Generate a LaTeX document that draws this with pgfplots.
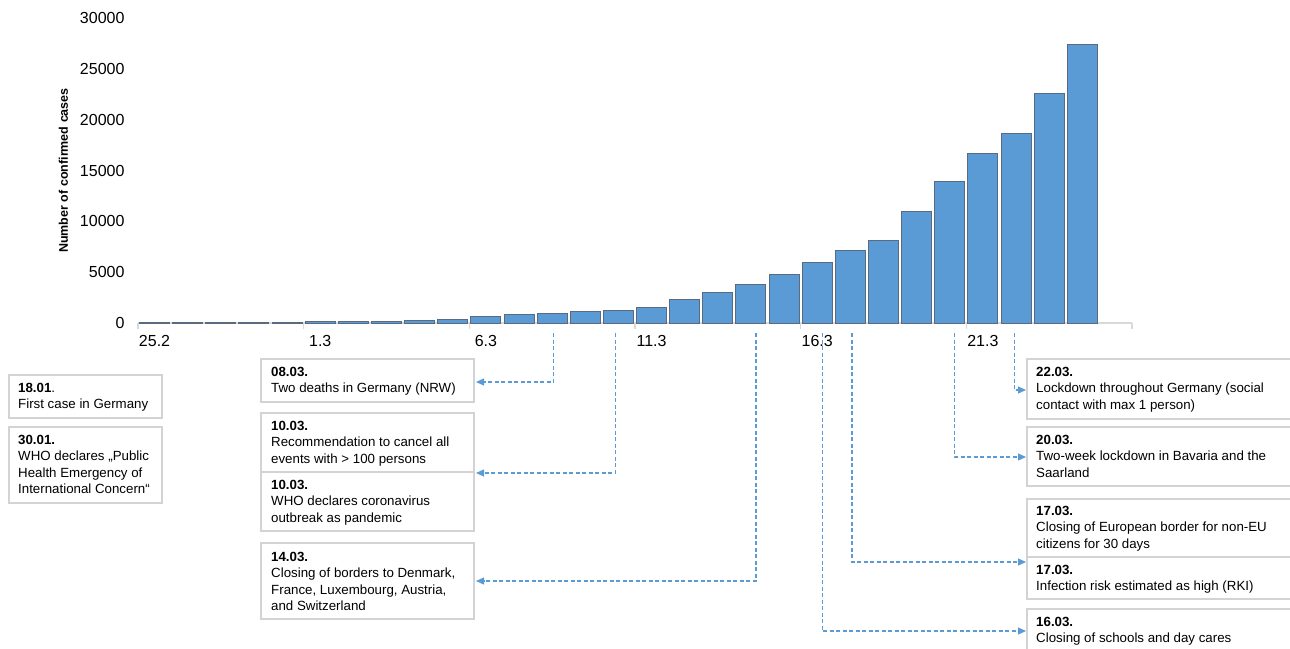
\documentclass[border=0pt]{standalone}
\usepackage{fontspec}
\setmainfont{Liberation Sans}
\usepackage{pgfplots}
\pgfplotsset{compat=1.18}
\usetikzlibrary{arrows.meta,calc}
\definecolor{barblue}{HTML}{5B9BD5}
\definecolor{baredge}{HTML}{5A6B80}
\definecolor{boxgray}{HTML}{D3D3D3}
\definecolor{axisgray}{HTML}{D9D9D9}
\newcommand\boxfont{\fontsize{13.3}{16.3}\selectfont}

\begin{document}
\begin{tikzpicture}
\useasboundingbox (0pt,0pt) rectangle (1290pt,-648pt);
\clip (0pt,0pt) rectangle (1290pt,-648pt);
\begin{axis}[
  at={(138pt,-323pt)}, anchor=south west,
  scale only axis, width=994pt, height=305pt,
  xmin=-0.5, xmax=29.5, ymin=0, ymax=30000,
  ybar, bar width=30pt,
  axis x line*=bottom, axis y line*=left,
  x axis line style={draw=axisgray, line width=1.2pt, -},
  y axis line style={draw=none},
  xtick={0,5,10,15,20,25},
  xticklabels={25.2,1.3,6.3,11.3,16.3,21.3},
  major tick length=0pt,
  ytick={0,5000,10000,15000,20000,25000,30000},
  scaled y ticks=false,
  /pgf/number format/1000 sep={},
  /pgf/number format/assume math mode=true,
  tick label style={font=\fontsize{16}{19}\selectfont},
  xticklabel style={yshift=-8.7pt},
  yticklabel style={xshift=-10pt},
  ylabel={Number of confirmed cases},
  ylabel style={at={(axis description cs:-0.075,0.5)}, anchor=center,
    font=\fontsize{12.5}{15}\selectfont\bfseries},
  clip=false,
]
% confirmed cases per day, 25.2 to 24.3
\addplot[fill=barblue, draw=baredge, line width=1pt] coordinates {
  (0,16) (1,18) (2,26) (3,48) (4,66) (5,117) (6,150) (7,190) (8,240)
  (9,380) (10,600) (11,800) (12,900) (13,1100) (14,1270) (15,1520)
  (16,2320) (17,3000) (18,3770) (19,4780) (20,5970) (21,7150) (22,8160)
  (23,10960) (24,13930) (25,16630) (26,18600) (27,22600) (28,27420)
};
% tick marks between every fifth day
\pgfplotsinvokeforeach{-0.5,4.5,9.5,14.5,19.5,24.5,29.5}{
  \draw[axisgray, line width=1.2pt] (axis cs:#1,0) -- ++(0pt,-6pt);
}
% anchors of the event arrows
\coordinate (a08) at (axis cs:12.05,0);
\coordinate (a10) at (axis cs:13.9,0);
\coordinate (a14) at (axis cs:18.15,0);
\coordinate (a16) at (axis cs:20.15,0);
\coordinate (a17) at (axis cs:21.05,0);
\coordinate (a20) at (axis cs:24.15,0);
\coordinate (a22) at (axis cs:25.95,0);
\end{axis}

\begin{scope}[x=1pt, y=-1pt,
  box/.style={draw=boxgray, line width=1.5pt},
  txt/.style={anchor=north west, inner sep=0pt, align=left, font=\boxfont},
  arr/.style={barblue, line width=1.2pt, dash pattern=on 4pt off 2.5pt,
    -{Triangle[length=8pt,width=7pt]}}]
  % left column
  \draw[box] (9,375) rectangle (162,418);
  \node[txt] at (18,383) {\textbf{18.01}.\\First case in Germany};
  \draw[box] (9,427) rectangle (162,503);
  \node[txt] at (18,435) {\textbf{30.01.}\\WHO declares „Public\\Health Emergency of\\International Concern“};
  % middle column
  \draw[box] (261,359) rectangle (474,402);
  \node[txt] at (271,367) {\textbf{08.03.}\\Two deaths in Germany (NRW)};
  \draw[box] (261,413) rectangle (474,531);
  \draw[box] (261,472) -- (474,472);
  \node[txt] at (271,421) {\textbf{10.03.}\\Recommendation to cancel all\\events with > 100 persons};
  \node[txt] at (271,480) {\textbf{10.03.}\\WHO declares coronavirus\\outbreak as pandemic};
  \draw[box] (261,543) rectangle (474,619);
  \node[txt] at (271,552) {\textbf{14.03.}\\Closing of borders to Denmark,\\France, Luxembourg, Austria,\\and Switzerland};
  % right column
  \draw[box] (1027,359) rectangle (1300,419);
  \node[txt] at (1036,367) {\textbf{22.03.}\\Lockdown throughout Germany (social\\contact with max 1 person)};
  \draw[box] (1027,427) rectangle (1300,486);
  \node[txt] at (1036,435) {\textbf{20.03.}\\Two-week lockdown in Bavaria and the\\Saarland};
  \draw[box] (1027,499) rectangle (1300,599);
  \draw[box] (1027,557) -- (1300,557);
  \node[txt] at (1036,506) {\textbf{17.03.}\\Closing of European border for non-EU\\citizens for 30 days};
  \node[txt] at (1036,565) {\textbf{17.03.}\\Infection risk estimated as high (RKI)};
  \draw[box] (1027,609) rectangle (1300,660);
  \node[txt] at (1036,617) {\textbf{16.03.}\\Closing of schools and day cares};
  % arrows from the days to the events
  \draw[arr] ($(a08)+(0pt,-10pt)$) |- (476,382);
  \draw[arr] ($(a10)+(0pt,-10pt)$) |- (476,473);
  \draw[arr] ($(a14)+(0pt,-10pt)$) |- (476,581);
  \draw[arr] ($(a16)+(0pt,-10pt)$) |- (1026,631);
  \draw[arr] ($(a17)+(0pt,-10pt)$) |- (1026,562);
  \draw[arr] ($(a20)+(0pt,-10pt)$) |- (1026,457);
  \draw[arr] ($(a22)+(0pt,-10pt)$) |- (1026,390);
\end{scope}
\end{tikzpicture}
\end{document}
